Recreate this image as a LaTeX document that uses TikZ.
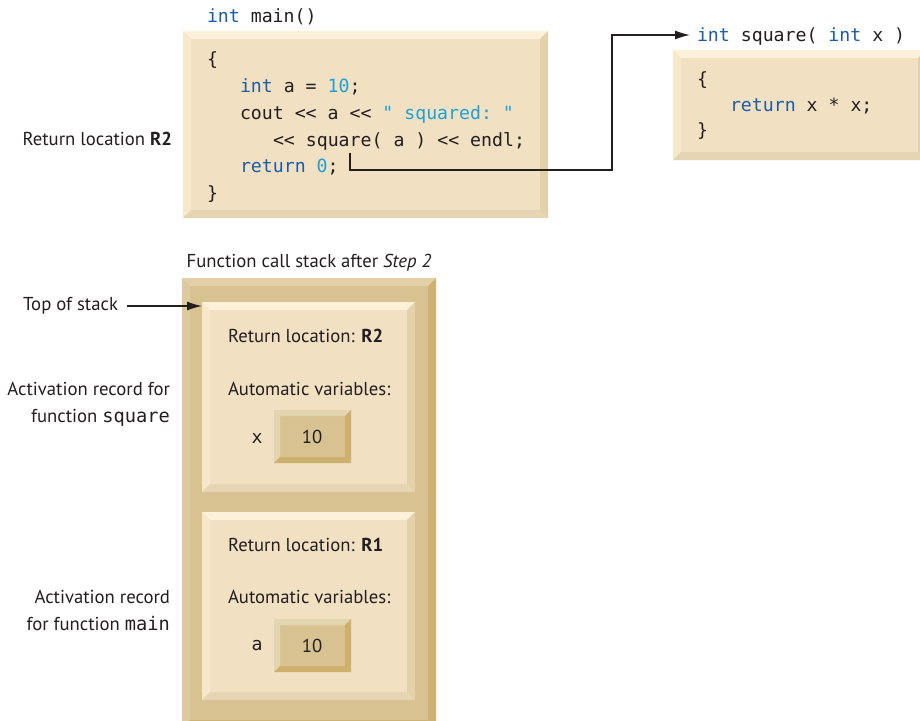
\documentclass[tikz,border=0pt]{standalone}
\usepackage{fontspec}
\setmainfont{PT Sans}
\setmonofont{DejaVu Sans Mono}
\usetikzlibrary{arrows.meta}
\definecolor{kw}{HTML}{1A5CA8}
\definecolor{lit}{HTML}{1BA1DC}
\definecolor{ink}{HTML}{231F20}
\newcommand\kw[1]{\textcolor{kw}{#1}}
\newcommand\lit[1]{\textcolor{lit}{#1}}
\newcommand\bevbox[6]{%
  \fill[#6face] (#1,#2) rectangle (#3,#4);
  \fill[#6top] (#1,#2) -- (#3,#2) -- (#3-#5,#2+#5) -- (#1+#5,#2+#5) -- cycle;
  \fill[#6left] (#1,#2) -- (#1+#5,#2+#5) -- (#1+#5,#4-#5) -- (#1,#4) -- cycle;
  \fill[#6right] (#3,#2) -- (#3,#4) -- (#3-#5,#4-#5) -- (#3-#5,#2+#5) -- cycle;
  \fill[#6bot] (#1,#4) -- (#3,#4) -- (#3-#5,#4-#5) -- (#1+#5,#4-#5) -- cycle;
}
\tikzset{
  cbface/.style={fill={rgb,255:red,241;green,224;blue,194}},
  cbtop/.style={fill={rgb,255:red,254;green,241;blue,218}},
  cbleft/.style={fill={rgb,255:red,247;green,232;blue,204}},
  cbright/.style={fill={rgb,255:red,227;green,209;blue,172}},
  cbbot/.style={fill={rgb,255:red,229;green,213;blue,178}},
  sbface/.style={fill={rgb,255:red,216;green,194;blue,145}},
  sbtop/.style={fill={rgb,255:red,227;green,208;blue,166}},
  sbleft/.style={fill={rgb,255:red,222;green,202;blue,156}},
  sbright/.style={fill={rgb,255:red,205;green,178;blue,115}},
  sbbot/.style={fill={rgb,255:red,205;green,178;blue,115}},
  vbface/.style={fill={rgb,255:red,216;green,194;blue,145}},
  vbtop/.style={fill={rgb,255:red,228;green,213;blue,177}},
  vbleft/.style={fill={rgb,255:red,228;green,213;blue,177}},
  vbright/.style={fill={rgb,255:red,205;green,176;blue,108}},
  vbbot/.style={fill={rgb,255:red,205;green,176;blue,108}},
}
\begin{document}
\begin{tikzpicture}[x=1pt,y=-1pt,
  every node/.style={inner sep=0pt,outer sep=0pt,text=ink},
  code/.style={font=\ttfamily\fontsize{18.2}{22}\selectfont,anchor=mid west},
  lbl/.style={font=\fontsize{18.7}{27}\selectfont},
  conn/.style={line width=1.2pt,draw=ink}]
\clip (0,0) rectangle (920,720);
\fill[white] (0,0) rectangle (920,720);
% boxes
\bevbox{183}{31}{548}{218}{8}{cb}
\bevbox{673}{50}{926}{160}{8}{cb}
\bevbox{182}{278}{436}{728}{8}{sb}
\bevbox{202}{302}{415}{492}{8}{cb}
\bevbox{202}{512}{415}{700}{8}{cb}
\bevbox{274}{410}{351}{463}{6}{vb}
\bevbox{274}{619}{351}{672}{6}{vb}
% main code
\node[code] (mainsig) at (207,20) {\kw{int} main()};
\node[code] (m1) at (207,63) {\{};
\node[code] (m2) at (240,90) {\kw{int} a = \lit{10};};
\node[code] (m3) at (240,117) {cout << a << \lit{" squared: "}};
\node[code] (m4) at (273,144) {<< square( a ) << endl;};
\node[code] (m5) at (240,170) {\kw{return} \lit{0};};
\node[code] (m6) at (207,197) {\}};
% square code
\node[code] (sqsig) at (697,39) {\kw{int} square( \kw{int} x )};
\node[code] (s1) at (697,83) {\{};
\node[code] (s2) at (730,109) {\kw{return} x * x;};
\node[code] (s3) at (697,134) {\}};
% labels
\node[lbl,anchor=east] (retR2) at (172,139) {Return location \textbf{R2}};
\node[lbl] (stacktitle) at (309,263) {Function call stack after \textit{Step 2}};
\node[lbl,anchor=east] (tos) at (118,306) {Top of stack};
\coordinate (rec1) at (202,302);
\node[lbl,anchor=west] (r1ret) at (228,336) {Return location: \textbf{R2}};
\node[lbl,anchor=west] (r1auto) at (228,389) {Automatic variables:};
\node[code,anchor=center] (xname) at (257,439) {x};
\node[lbl] (xval) at (312,437) {10};
\node[lbl,anchor=east,align=right] (act1) at (170,404.5) {Activation record for\\function {\ttfamily square}};
\node[lbl,anchor=west] (r2ret) at (228,545) {Return location: \textbf{R1}};
\node[lbl,anchor=west] (r2auto) at (228,597) {Automatic variables:};
\node[code,anchor=center] (aname) at (257,646) {a};
\node[lbl] (aval) at (312,646) {10};
\node[lbl,anchor=east,align=right] (act2) at (170,610.5) {Activation record\\for function {\ttfamily main}};
% connectors
\coordinate (callpt) at (350,153);
\coordinate (turn) at (612,170);
\coordinate (sqtip) at (697,35);
\draw[conn,-{Latex[length=15pt,width=9pt]},shorten >=7pt] (callpt) |- (turn) |- (sqtip);
\draw[conn,-{Latex[length=15pt,width=9pt]},shorten <=9pt] (tos.east) -- (tos.east -| rec1);
\end{tikzpicture}
\end{document}
